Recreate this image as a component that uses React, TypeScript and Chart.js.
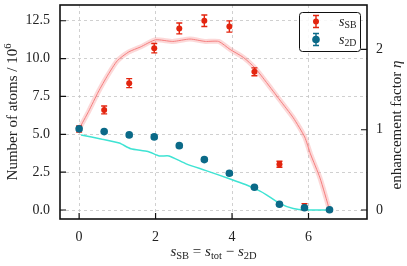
import React, { useEffect, useRef } from 'react';
import { Chart, registerables } from 'chart.js';

Chart.register(...registerables);

// ---- data ----
const pointX = [0, 0.655, 1.31, 1.965, 2.62, 3.275, 3.93, 4.585, 5.24, 5.895, 6.55];
const sbValues = [5.35, 6.61, 8.38, 10.69, 11.99, 12.5, 12.12, 9.13, 3.02, 0.22, 0.0];
const sbErrors = [0.2, 0.26, 0.3, 0.31, 0.36, 0.38, 0.37, 0.26, 0.2, 0.2, 0.1];
const s2dValues = [5.36, 5.18, 4.96, 4.83, 4.25, 3.33, 2.43, 1.5, 0.38, 0.15, 0.02];
const s2dErrors = [0.12, 0.12, 0.12, 0.12, 0.12, 0.12, 0.12, 0.1, 0.08, 0.06, 0.04];

const etaX = [0, 0.25, 0.5, 0.75, 1.0, 1.3, 1.6, 2.0, 2.45, 2.9, 3.3, 3.65, 3.95, 4.3, 4.6, 4.9, 5.25, 5.6, 5.9, 6.05, 6.3, 6.55];
const etaValues = [1.01, 1.23, 1.47, 1.68, 1.86, 1.97, 2.03, 2.12, 2.1, 2.13, 2.1, 2.1, 2.0, 1.9, 1.77, 1.59, 1.37, 1.15, 0.91, 0.7, 0.4, 0.0];

const cyanX = [0.05, 0.6, 1.05, 1.35, 1.8, 2.1, 2.35, 2.8, 3.3, 3.95, 4.35, 4.72, 4.9, 5.24, 5.6, 5.93, 6.55];
const cyanValues = [4.95, 4.68, 4.42, 4.05, 3.87, 3.57, 3.57, 3.05, 2.62, 2.05, 1.68, 1.26, 1.0, 0.44, 0.1, 0.0, 0.0];

const xTicks = [0, 2, 4, 6];
const yTicks = [0, 2.5, 5, 7.5, 10, 12.5];
const etaTicks = [0, 1, 2];

// ---- styles ----
const FONT = "'Liberation Serif', 'Times New Roman', serif";
const RED = '#e3250f';
const BLUE = '#0b6a88';
const CYAN = '#3fe3d3';
const RED_LINE = '#f57f7f';
const RED_BAND = 'rgba(245,127,127,0.3)';
const TEXT = '#222';

type Part = { t: string; it?: boolean; sub?: boolean; sup?: boolean };

function partFont(p: Part, size: number) {
  const fs = p.sub || p.sup ? size * 0.7 : size;
  return `${p.it ? 'italic ' : ''}${fs}px ${FONT}`;
}

function richWidth(ctx: CanvasRenderingContext2D, parts: Part[], size: number) {
  let w = 0;
  for (const p of parts) {
    ctx.font = partFont(p, size);
    w += ctx.measureText(p.t).width;
  }
  return w;
}

function drawRich(ctx: CanvasRenderingContext2D, parts: Part[], x: number, y: number, size: number, align: 'left' | 'center') {
  const w = richWidth(ctx, parts, size);
  let cx = align === 'center' ? x - w / 2 : x;
  ctx.textAlign = 'left';
  ctx.textBaseline = 'alphabetic';
  for (const p of parts) {
    ctx.font = partFont(p, size);
    const dy = p.sub ? size * 0.2 : p.sup ? -size * 0.4 : 0;
    ctx.fillText(p.t, cx, y + dy);
    cx += ctx.measureText(p.t).width;
  }
}

function drawErrorBar(ctx: CanvasRenderingContext2D, x: number, yTop: number, yBot: number, color: string) {
  ctx.strokeStyle = color;
  ctx.lineWidth = 1.4;
  ctx.beginPath();
  ctx.moveTo(x, yTop);
  ctx.lineTo(x, yBot);
  ctx.moveTo(x - 3, yTop);
  ctx.lineTo(x + 3, yTop);
  ctx.moveTo(x - 3, yBot);
  ctx.lineTo(x + 3, yBot);
  ctx.stroke();
}

const decorPlugin = {
  id: 'decor',
  beforeDatasetDraw(chart: any, args: any) {
    const ds = chart.data.datasets[args.index];
    if (!ds.errors) return;
    const ctx = chart.ctx;
    const xs = chart.scales.x;
    const ys = chart.scales[ds.yAxisID || 'y'];
    ctx.save();
    ds.data.forEach((d: any, i: number) => {
      const e = ds.errors[i];
      const px = xs.getPixelForValue(d.x);
      drawErrorBar(ctx, px, ys.getPixelForValue(d.y + e), ys.getPixelForValue(d.y - e), ds.borderColor);
    });
    ctx.restore();
  },
  afterDraw(chart: any) {
    const ctx: CanvasRenderingContext2D = chart.ctx;
    const a = chart.chartArea;
    ctx.save();
    // frame
    ctx.strokeStyle = '#111';
    ctx.lineWidth = 1.6;
    ctx.strokeRect(a.left, a.top, a.right - a.left, a.bottom - a.top);
    // inward ticks
    ctx.lineWidth = 1.2;
    ctx.beginPath();
    const tl = 6;
    for (const v of yTicks) {
      const py = chart.scales.y.getPixelForValue(v);
      ctx.moveTo(a.left, py);
      ctx.lineTo(a.left + tl, py);
    }
    for (const v of etaTicks) {
      const py = chart.scales.y2.getPixelForValue(v);
      ctx.moveTo(a.right, py);
      ctx.lineTo(a.right - tl, py);
    }
    for (const v of xTicks) {
      const px = chart.scales.x.getPixelForValue(v);
      ctx.moveTo(px, a.bottom);
      ctx.lineTo(px, a.bottom - tl);
    }
    ctx.stroke();

    // legend
    const lx = 299, ly = 12, lw = 61, lh = 39;
    ctx.fillStyle = 'rgba(255,255,255,0.85)';
    ctx.strokeStyle = '#111';
    ctx.lineWidth = 1;
    ctx.beginPath();
    ctx.roundRect(lx + 0.5, ly + 0.5, lw, lh, 3);
    ctx.fill();
    ctx.stroke();
    const rows: { color: string; r: number; parts: Part[] }[] = [
      { color: RED, r: 3, parts: [{ t: 's', it: true }, { t: 'SB', sub: true }] },
      { color: BLUE, r: 3.8, parts: [{ t: 's', it: true }, { t: '2D', sub: true }] },
    ];
    rows.forEach((row, i) => {
      const cy = 21.5 + i * 18;
      const mx = 316;
      drawErrorBar(ctx, mx, cy - 6, cy + 6, row.color);
      ctx.fillStyle = row.color;
      ctx.beginPath();
      ctx.arc(mx, cy, row.r, 0, Math.PI * 2);
      ctx.fill();
      ctx.fillStyle = TEXT;
      drawRich(ctx, row.parts, 339, cy + 4, 14, 'left');
    });

    // axis titles
    ctx.fillStyle = TEXT;
    drawRich(
      ctx,
      [
        { t: 's', it: true }, { t: 'SB', sub: true }, { t: ' = ' },
        { t: 's', it: true }, { t: 'tot', sub: true }, { t: ' \u2212 ' },
        { t: 's', it: true }, { t: '2D', sub: true },
      ],
      (a.left + a.right) / 2,
      256,
      15,
      'center'
    );
    ctx.save();
    ctx.translate(17, (a.top + a.bottom) / 2);
    ctx.rotate(-Math.PI / 2);
    drawRich(ctx, [{ t: 'Number of atoms / 10' }, { t: '6', sup: true }], 0, 0, 15, 'center');
    ctx.restore();
    ctx.save();
    ctx.translate(401, (a.top + a.bottom) / 2 + 13);
    ctx.rotate(-Math.PI / 2);
    drawRich(ctx, [{ t: 'enhancement factor ' }, { t: '\u03b7', it: true }], 0, 0, 15, 'center');
    ctx.restore();
    ctx.restore();
  },
};

const tickFont = { family: FONT, size: 14 };

export default function App() {
  const ref = useRef<HTMLCanvasElement | null>(null);
  useEffect(() => {
    if (!ref.current) return;
    const chart = new Chart(ref.current, {
      type: 'scatter',
      data: {
        datasets: [
          {
            label: 's2D',
            data: pointX.map((x, i) => ({ x, y: s2dValues[i] })),
            errors: s2dErrors,
            yAxisID: 'y',
            backgroundColor: BLUE,
            borderColor: BLUE,
            pointRadius: 3.8,
            pointBorderWidth: 0,
            showLine: false,
            order: 0,
          } as any,
          {
            label: 'sSB',
            data: pointX.map((x, i) => ({ x, y: sbValues[i] })),
            errors: sbErrors,
            yAxisID: 'y',
            backgroundColor: RED,
            borderColor: RED,
            pointRadius: 3,
            pointBorderWidth: 0,
            showLine: false,
            order: 1,
          } as any,
          {
            label: 'cyan',
            type: 'line',
            data: cyanX.map((x, i) => ({ x, y: cyanValues[i] })),
            yAxisID: 'y',
            borderColor: CYAN,
            borderWidth: 1.5,
            pointRadius: 0,
            tension: 0.2,
            order: 2,
          } as any,
          {
            label: 'eta',
            type: 'line',
            data: etaX.map((x, i) => ({ x, y: etaValues[i] })),
            yAxisID: 'y2',
            borderColor: RED_LINE,
            borderWidth: 1,
            pointRadius: 0,
            tension: 0.2,
            order: 3,
          } as any,
          {
            label: 'etaBand',
            type: 'line',
            data: etaX.map((x, i) => ({ x, y: etaValues[i] })),
            yAxisID: 'y2',
            borderColor: RED_BAND,
            borderWidth: 5,
            pointRadius: 0,
            tension: 0.2,
            order: 4,
          } as any,
        ],
      },
      options: {
        animation: false,
        responsive: false,
        devicePixelRatio: 1,
        layout: { padding: { top: 5, left: 0, right: 0, bottom: 0 } },
        plugins: { legend: { display: false }, tooltip: { enabled: false } },
        scales: {
          x: {
            type: 'linear',
            min: -0.5,
            max: 7.53,
            afterBuildTicks: (s: any) => { s.ticks = xTicks.map((v) => ({ value: v })); },
            afterFit: (s: any) => { s.height = 47; s.paddingLeft = 0; s.paddingRight = 0; },
            grid: { color: '#c4c4c4', lineWidth: 0.8, drawTicks: false },
            border: { display: false, dash: [3, 3] },
            ticks: { font: tickFont, color: TEXT, padding: 10, maxRotation: 0, callback: (v: any) => String(v) },
          },
          y: {
            type: 'linear',
            position: 'left',
            min: -0.594,
            max: 13.54,
            afterBuildTicks: (s: any) => { s.ticks = yTicks.map((v) => ({ value: v })); },
            afterFit: (s: any) => { s.width = 60; s.paddingTop = 0; s.paddingBottom = 0; },
            grid: { color: '#c4c4c4', lineWidth: 0.8, drawTicks: false },
            border: { display: false, dash: [3, 3] },
            ticks: { font: tickFont, color: TEXT, padding: 10, callback: (v: any) => Number(v).toFixed(1) },
          },
          y2: {
            type: 'linear',
            position: 'right',
            min: -0.112,
            max: 2.554,
            afterBuildTicks: (s: any) => { s.ticks = etaTicks.map((v) => ({ value: v })); },
            afterFit: (s: any) => { s.width = 40; s.paddingTop = 0; s.paddingBottom = 0; },
            grid: { display: false, drawTicks: false },
            border: { display: false },
            ticks: { font: tickFont, color: TEXT, padding: 9, callback: (v: any) => String(v) },
          },
        },
      } as any,
      plugins: [decorPlugin],
    });
    return () => chart.destroy();
  }, []);
  return (
    <div style={{ position: 'fixed', left: 0, top: 0, width: 407, height: 266, background: '#fff' }}>
      <canvas ref={ref} width={407} height={266} style={{ display: 'block' }} />
    </div>
  );
}
